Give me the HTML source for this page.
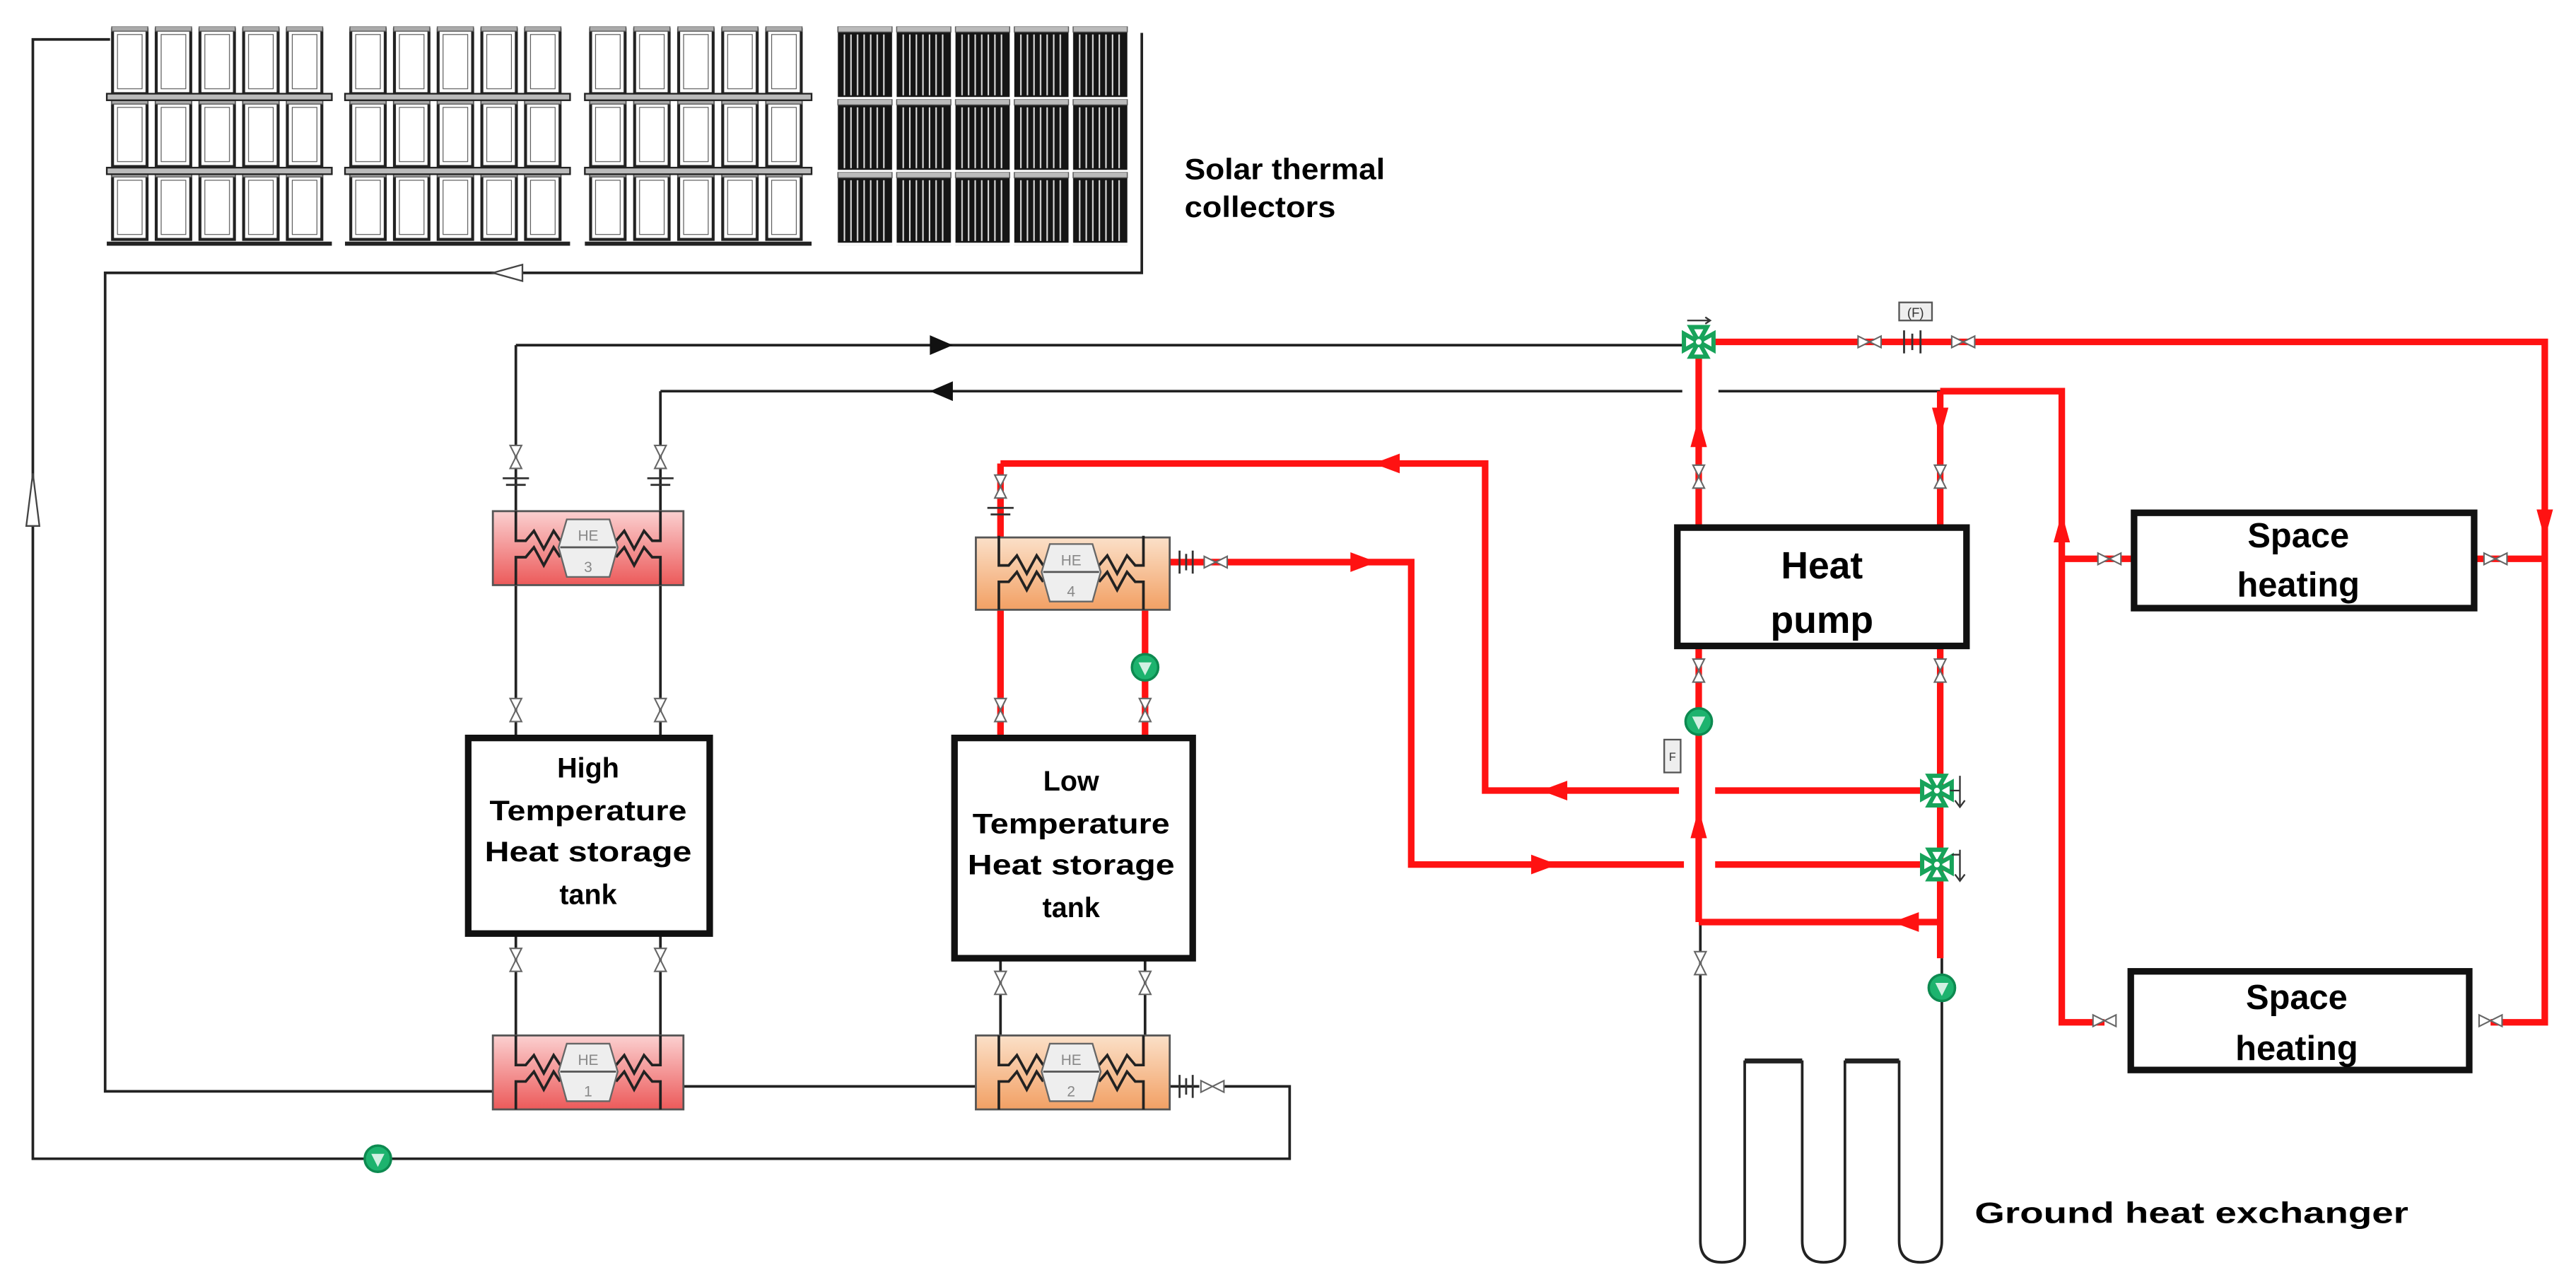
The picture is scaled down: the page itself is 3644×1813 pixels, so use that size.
<!DOCTYPE html>
<html><head><meta charset="utf-8"><style>html,body{margin:0;padding:0;background:#fff}svg{display:block}</style></head>
<body>
<svg xmlns="http://www.w3.org/2000/svg" width="3644" height="1813" viewBox="0 0 1568 780" preserveAspectRatio="none">
<defs>
<linearGradient id="gr" x1="0" y1="0" x2="0" y2="1"><stop offset="0" stop-color="#fbd0d0"/><stop offset="1" stop-color="#ec5a5a"/></linearGradient>
<linearGradient id="go" x1="0" y1="0" x2="0" y2="1"><stop offset="0" stop-color="#fbe0c8"/><stop offset="1" stop-color="#f2a064"/></linearGradient>
<pattern id="pl" patternUnits="objectBoundingBox" width="0.2" height="0.33333">
<rect x="1.5" y="2" width="21" height="39" fill="#fff" stroke="#222" stroke-width="1.8"/>
<rect x="1" y="0" width="22" height="3" fill="#aaa" stroke="#555" stroke-width="0.6"/>
<rect x="4.5" y="5" width="15" height="33" fill="none" stroke="#555" stroke-width="0.5"/>
</pattern>
<pattern id="pd" patternUnits="objectBoundingBox" width="0.2" height="0.33333">
<rect x="1" y="1" width="33" height="42" fill="#151515"/>
<rect x="1" y="0" width="33" height="3.5" fill="#bbb" stroke="#555" stroke-width="0.6"/>
<g stroke="#ddd" stroke-width="0.9"><line x1="5" y1="5" x2="5" y2="42"/><line x1="9" y1="5" x2="9" y2="42"/><line x1="13" y1="5" x2="13" y2="42"/><line x1="17" y1="5" x2="17" y2="42"/><line x1="21" y1="5" x2="21" y2="42"/><line x1="25" y1="5" x2="25" y2="42"/><line x1="29" y1="5" x2="29" y2="42"/></g>
</pattern>
<g id="vv"><path d="M-3.5,-7 L3.5,-7 L0,0 Z M-3.5,7 L3.5,7 L0,0 Z" fill="#fff" stroke="#666" stroke-width="0.9"/></g>
<g id="hv"><path d="M-7,-3.5 L-7,3.5 L0,0 Z M7,-3.5 L7,3.5 L0,0 Z" fill="#fff" stroke="#666" stroke-width="0.9"/></g>
<g id="pump"><circle r="8" fill="#1db36e" stroke="#0d8a50" stroke-width="1.5"/><path d="M-4,-3 L4,-3 L0,5 Z" fill="#fff" opacity="0.8"/></g>
<g id="tw"><path d="M-9,-5 L-9,5 L0,0 Z M9,-5 L9,5 L0,0 Z M-5,-9 L5,-9 L0,0 Z M-5,9 L5,9 L0,0 Z" fill="#fff" stroke="#17a35a" stroke-width="2.6"/><circle r="2.5" fill="#fff" stroke="#17a35a" stroke-width="1.5"/></g>
<g id="hein" fill="none" stroke="#222" stroke-width="1.6">
<path d="M14,0 V18 L20,18 L25,12 L31,23 L37,12 L41,18"/>
<path d="M75,18 L80,12 L86,23 L92,12 L97,18 L102,18 V0"/>
<path d="M14,45 V28 L20,28 L25,22 L31,33 L37,22 L41,28"/>
<path d="M75,28 L80,22 L86,33 L92,22 L97,28 L102,28 V45"/>
<polygon points="45,5 71,5 76,22 71,40 45,40 40,22" fill="#eee" stroke="#666" stroke-width="1"/>
<line x1="41" y1="22" x2="75" y2="22" stroke="#555" stroke-width="1.2"/>
</g>
</defs>

<!-- Solar collectors -->
<rect x="67" y="16" width="133" height="133" fill="url(#pl)"/>
<rect x="212" y="16" width="133" height="133" fill="url(#pl)"/>
<rect x="358" y="16" width="134" height="133" fill="url(#pl)"/>
<rect x="509" y="16" width="179" height="133" fill="url(#pd)"/>
<g fill="#bbb" stroke="#222" stroke-width="1">
<rect x="65" y="57" width="137" height="4"/><rect x="210" y="57" width="137" height="4"/><rect x="356" y="57" width="138" height="4"/>
<rect x="65" y="102" width="137" height="4"/><rect x="210" y="102" width="137" height="4"/><rect x="356" y="102" width="138" height="4"/>
</g>
<g fill="#222"><rect x="65" y="147" width="137" height="2.5"/><rect x="210" y="147" width="137" height="2.5"/><rect x="356" y="147" width="138" height="2.5"/></g>

<g font-family="'Liberation Sans',sans-serif" font-weight="bold" fill="#000">
<text x="721" y="109" font-size="18" textLength="122" lengthAdjust="spacingAndGlyphs">Solar thermal</text>
<text x="721" y="132" font-size="18" textLength="92" lengthAdjust="spacingAndGlyphs">collectors</text>
</g>

<!-- black pipes -->
<g fill="none" stroke="#222" stroke-width="1.6">
<path d="M67,24 H20 V705 H785 V661 H745"/>
<path d="M695,20 V166 H64 V664 H300"/>
<path d="M416,661 H594 M712,661 H730"/>
<path d="M314,210 H1026"/>
<path d="M402,238 H1024 M1046,238 H1181"/>
<path d="M314,210 V311 M402,238 V311"/>
<path d="M314,356 V447 M402,356 V447"/>
<path d="M314,568 V630 M402,568 V630"/>
<path d="M609,583 V630 M697,583 V630"/>
<path d="M1181,481 V526"/>
<path d="M1035,561 V755 Q1035,768 1048,768 Q1062,768 1062,755 V646 H1097 V755 Q1097,768 1110,768 Q1123,768 1123,755 V646 H1156 V755 Q1156,768 1169,768 Q1182,768 1182,755 V583"/>
</g>
<rect x="1062" y="644" width="35" height="3" fill="#222"/><rect x="1123" y="644" width="33" height="3" fill="#222"/>
<polygon points="20,288 16,320 24,320" fill="#fff" stroke="#444" stroke-width="1"/>
<polygon points="300,166 318,161 318,171" fill="#fff" stroke="#444" stroke-width="1"/>
<polygon points="580,210 566,204 566,216" fill="#111"/>
<polygon points="566,238 580,232 580,244" fill="#111"/>

<!-- red pipes -->
<g fill="none" stroke="#ff1212" stroke-width="4" stroke-linejoin="miter">
<path d="M1043,208 H1549 V622 H1516"/>
<path d="M1181,238 H1255 V622 H1281"/>
<path d="M1034,217 V319 M1034,394 V561"/>
<path d="M1181,238 V319 M1181,394 V583"/>
<path d="M1255,340 H1299 M1506,340 H1549"/>
<path d="M609,282 H904 V481 H1022 M1044,481 H1170"/>
<path d="M712,342 H859 V526 H1025 M1044,526 H1170"/>
<path d="M1034,561 H1181"/>
<path d="M609,282 V447"/>
<path d="M697,365 V447"/>
</g>
<g fill="#ff1212">
<polygon points="1034,254 1029,272 1039,272"/>
<polygon points="1181,266 1176,248 1186,248"/>
<polygon points="1255,312 1250,330 1260,330"/>
<polygon points="1549,328 1544,310 1554,310"/>
<polygon points="836,282 852,276 852,288"/>
<polygon points="838,342 822,336 822,348"/>
<polygon points="938,481 954,475 954,487"/>
<polygon points="948,526 932,520 932,532"/>
<polygon points="1152,561 1168,555 1168,567"/>
<polygon points="1034,492 1029,510 1039,510"/>
</g>

<!-- heat exchangers -->
<rect x="300" y="311" width="116" height="45" fill="url(#gr)" stroke="#555" stroke-width="1.2"/>
<use href="#hein" x="300" y="311"/>
<rect x="594" y="327" width="118" height="44" fill="url(#go)" stroke="#555" stroke-width="1.2"/>
<use href="#hein" x="594" y="326"/>
<rect x="300" y="630" width="116" height="45" fill="url(#gr)" stroke="#555" stroke-width="1.2"/>
<use href="#hein" x="300" y="630"/>
<rect x="594" y="630" width="118" height="45" fill="url(#go)" stroke="#555" stroke-width="1.2"/>
<use href="#hein" x="594" y="630"/>
<g font-family="'Liberation Sans',sans-serif" font-size="9" fill="#888" text-anchor="middle">
<text x="358" y="329">HE</text><text x="358" y="348">3</text>
<text x="652" y="344">HE</text><text x="652" y="363">4</text>
<text x="358" y="648">HE</text><text x="358" y="667">1</text>
<text x="652" y="648">HE</text><text x="652" y="667">2</text>
</g>
<!-- flanges -->
<g stroke="#333" stroke-width="1.2">
<line x1="306" y1="291" x2="322" y2="291"/><line x1="308" y1="295" x2="320" y2="295"/>
<line x1="394" y1="291" x2="410" y2="291"/><line x1="396" y1="295" x2="408" y2="295"/>
<line x1="601" y1="309" x2="617" y2="309"/><line x1="603" y1="313" x2="615" y2="313"/>
<line x1="718" y1="335" x2="718" y2="349"/><line x1="722" y1="337" x2="722" y2="347"/><line x1="726" y1="335" x2="726" y2="349"/>
<line x1="718" y1="654" x2="718" y2="668"/><line x1="722" y1="656" x2="722" y2="666"/><line x1="726" y1="654" x2="726" y2="668"/>
<line x1="1159" y1="201" x2="1159" y2="215"/><line x1="1164" y1="203" x2="1164" y2="213"/><line x1="1169" y1="201" x2="1169" y2="215"/>
</g>
<rect x="1156" y="184" width="20" height="11" fill="#eee" stroke="#555" stroke-width="1"/>
<text x="1166" y="193" font-family="'Liberation Sans',sans-serif" font-size="8" text-anchor="middle" fill="#333">(F)</text>
<rect x="1013" y="450" width="10" height="20" fill="#eee" stroke="#555" stroke-width="1"/>
<text x="1018" y="463" font-family="'Liberation Sans',sans-serif" font-size="7" text-anchor="middle" fill="#333">F</text>

<!-- tanks and boxes -->
<g fill="#fff" stroke="#111" stroke-width="4">
<rect x="285" y="449" width="147" height="119"/>
<rect x="581" y="449" width="145" height="134"/>
<rect x="1021" y="321" width="176" height="72"/>
<rect x="1299" y="312" width="207" height="58"/>
<rect x="1297" y="591" width="206" height="60"/>
</g>

<!-- valves -->
<use href="#vv" x="314" y="278"/><use href="#vv" x="402" y="278"/>
<use href="#vv" x="314" y="432"/><use href="#vv" x="402" y="432"/>
<use href="#vv" x="314" y="584"/><use href="#vv" x="402" y="584"/>
<use href="#vv" x="609" y="296"/>
<use href="#vv" x="609" y="432"/><use href="#vv" x="697" y="432"/>
<use href="#vv" x="609" y="598"/><use href="#vv" x="697" y="598"/>
<use href="#vv" x="1034" y="290"/><use href="#vv" x="1181" y="290"/>
<use href="#vv" x="1034" y="408"/><use href="#vv" x="1181" y="408"/>
<use href="#vv" x="1035" y="586"/>
<use href="#hv" x="740" y="342"/><use href="#hv" x="738" y="661"/>
<use href="#hv" x="1138" y="208"/><use href="#hv" x="1195" y="208"/>
<use href="#hv" x="1284" y="340"/><use href="#hv" x="1519" y="340"/>
<use href="#hv" x="1281" y="621"/><use href="#hv" x="1516" y="621"/>
<use href="#pump" x="230" y="705"/>
<use href="#pump" x="697" y="406"/>
<use href="#pump" x="1034" y="439"/>
<use href="#pump" x="1182" y="601"/>
<use href="#tw" x="1034" y="208"/>
<use href="#tw" x="1179" y="481"/>
<use href="#tw" x="1179" y="526"/>
<g stroke="#333" stroke-width="1" fill="none">
<path d="M1193,472 V490 M1190,487 L1193,491 L1196,487 M1187,481 H1193"/>
<path d="M1193,517 V535 M1190,532 L1193,536 L1196,532 M1188,520 H1193"/>
<path d="M1027,195 H1041 M1038,193 L1041,195 L1038,197"/>
</g>

<!-- labels -->
<g font-family="'Liberation Sans',sans-serif" font-weight="bold" fill="#000" text-anchor="middle">
<text x="358" y="473" font-size="17">High</text>
<text x="358" y="499" font-size="17" textLength="120" lengthAdjust="spacingAndGlyphs">Temperature</text>
<text x="358" y="524" font-size="17" textLength="126" lengthAdjust="spacingAndGlyphs">Heat storage</text>
<text x="358" y="550" font-size="17">tank</text>
<text x="652" y="481" font-size="17">Low</text>
<text x="652" y="507" font-size="17" textLength="120" lengthAdjust="spacingAndGlyphs">Temperature</text>
<text x="652" y="532" font-size="17" textLength="126" lengthAdjust="spacingAndGlyphs">Heat storage</text>
<text x="652" y="558" font-size="17">tank</text>
<text x="1109" y="352" font-size="23">Heat</text>
<text x="1109" y="385" font-size="23">pump</text>
<text x="1399" y="333" font-size="21">Space</text>
<text x="1399" y="363" font-size="21">heating</text>
<text x="1398" y="614" font-size="21">Space</text>
<text x="1398" y="645" font-size="21">heating</text>
</g>
<text x="1202" y="744" font-family="'Liberation Sans',sans-serif" font-weight="bold" font-size="18" textLength="264" lengthAdjust="spacingAndGlyphs">Ground heat exchanger</text>
</svg>
</body></html>
